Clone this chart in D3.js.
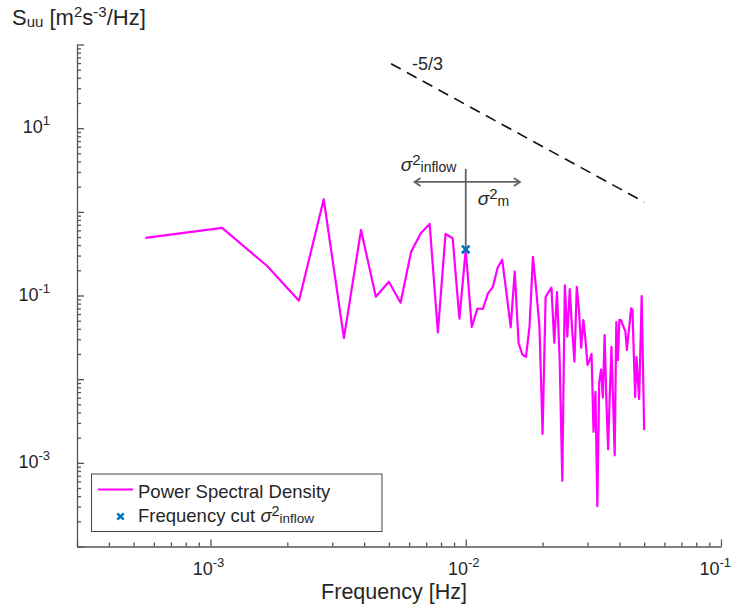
<!DOCTYPE html>
<html>
<head>
<meta charset="utf-8">
<script src="https://cdn.jsdelivr.net/npm/d3@7"></script>
<style>
  body { margin: 0; background: #fff; }
  svg { display: block; font-family: "Liberation Sans", Arial, sans-serif; }
</style>
</head>
<body>
<div id="chart"></div>
<script>
// Frequencies [Hz] of the spectrum
const freq = [
  0.000556, 0.001111, 0.001667, 0.002222, 0.002778, 0.003333, 0.003889, 0.004444, 0.005, 0.005556,
  0.006111, 0.006667, 0.007222, 0.007778, 0.008333, 0.008889, 0.009444, 0.01, 0.010556, 0.011111,
  0.011667, 0.012222, 0.012778, 0.013333, 0.013889, 0.014444, 0.015, 0.015556, 0.016111, 0.016667,
  0.017222, 0.017778, 0.018333, 0.018889, 0.019444, 0.02, 0.020556, 0.021111, 0.021667, 0.022222,
  0.022778, 0.023333, 0.023889, 0.024444, 0.025, 0.025556, 0.026111, 0.026667, 0.027222, 0.027778,
  0.028333, 0.028889, 0.029444, 0.03, 0.030556, 0.031111, 0.031667, 0.032222, 0.032778, 0.033333,
  0.033889, 0.034444, 0.035, 0.035556, 0.036111, 0.036667, 0.037222, 0.037778, 0.038333, 0.038889,
  0.039444, 0.04, 0.040556, 0.041111, 0.041667, 0.042222, 0.042778, 0.043333, 0.043889, 0.044444,
  0.045, 0.045556, 0.046111, 0.046667, 0.047222, 0.047778, 0.048333, 0.048889, 0.049444, 0.05
];

// Power spectral density S_uu
const psd = [
  0.488, 0.642, 0.225, 0.0867, 1.415, 0.031, 0.607, 0.0968, 0.146, 0.082,
  0.334, 0.554, 0.717, 0.0361, 0.544, 0.483, 0.0528, 0.355, 0.042, 0.0699,
  0.069, 0.106, 0.127, 0.2145, 0.268, 0.107, 0.0417, 0.193, 0.027, 0.0197,
  0.0185, 0.0424, 0.289, 0.116, 0.0424, 0.00222, 0.096, 0.11, 0.124, 0.0272,
  0.11, 0.0169, 0.00061, 0.132, 0.0322, 0.119, 0.0387, 0.0162, 0.127, 0.0671,
  0.0236, 0.0509, 0.0294, 0.0148, 0.0169, 0.02, 0.00235, 0.00707, 0.000303, 0.00923,
  0.013, 0.00603, 0.0337, 0.00562, 0.00145, 0.00645, 0.0244, 0.00562, 0.00123, 0.0482,
  0.0169, 0.0513, 0.051, 0.0456, 0.0408, 0.0376, 0.0223, 0.0328, 0.0482, 0.0703,
  0.0671, 0.0194, 0.00611, 0.0184, 0.0103, 0.00578, 0.0236, 0.0986, 0.0156, 0.00246
];

// Frequency cut marker
const cutFreq = [0.01];
const cutPsd = [0.355];

// -5/3 reference slope
const slopeFreq = [0.0051, 0.05];
const slopePsd = [58.8, 1.31];

// Annotation arrow (sigma^2 inflow / sigma^2 m)
const arrowFreq = [0.0063, 0.0163];
const arrowPsd = [2.28];
const cutLineTop = [3.26];

// Axes
const xDomain = [3e-4, 1e-1];
const yDomain = [1e-4, 1e2];
const xTickLabels = [1e-3, 1e-2, 1e-1];
const yTickLabels = [1e-3, 1e-1, 1e1];

const width = 732;
const height = 611;
const textColor = '#262626';
const axisColor = '#555';

const svg = d3.select('#chart')
  .append('svg')
  .attr('width', width)
  .attr('height', height);

const x = d3.scaleLog().domain(xDomain).range([77, 721]);
const y = d3.scaleLog().domain(yDomain).range([546.5, 44.5]);

const isDecade = v => Math.abs(Math.log10(v) - Math.round(Math.log10(v))) < 1e-9;

// Bottom axis, ticks pointing inward
const xAxis = svg.append('g')
  .attr('transform', `translate(0,${y.range()[0]})`)
  .call(d3.axisBottom(x).tickValues(x.ticks()).tickFormat('').tickSizeOuter(0).tickSizeInner(-4));

xAxis.selectAll('.tick line')
  .attr('y2', d => isDecade(d) ? -7 : -4);

// Left axis, ticks pointing inward
const yAxis = svg.append('g')
  .attr('transform', `translate(${x.range()[0]},0)`)
  .call(d3.axisLeft(y).tickValues(y.ticks()).tickFormat('').tickSizeOuter(0).tickSizeInner(-4));

yAxis.selectAll('.tick line')
  .attr('x2', d => isDecade(d) ? 7 : 4);

svg.selectAll('.domain, .tick line')
  .attr('stroke', axisColor)
  .attr('stroke-width', 1.3);

// Tick labels as 10^n
xTickLabels.forEach((v, i) => {
  const last = i === xTickLabels.length - 1;
  const t = svg.append('text')
    .attr('x', last ? 731 : x(v) - 2)
    .attr('y', 575)
    .attr('text-anchor', last ? 'end' : 'middle')
    .attr('fill', textColor)
    .attr('font-size', 18);
  t.append('tspan').text('10');
  t.append('tspan').attr('dy', -8).attr('font-size', 13).text(Math.round(Math.log10(v)));
});

yTickLabels.forEach(v => {
  const t = svg.append('text')
    .attr('x', 50)
    .attr('y', y(v) + 5)
    .attr('text-anchor', 'end')
    .attr('fill', textColor)
    .attr('font-size', 18);
  t.append('tspan').text('10');
  t.append('tspan').attr('dy', -8).attr('font-size', 13).text(Math.round(Math.log10(v)));
});

// Axis labels
svg.append('text')
  .attr('x', 394)
  .attr('y', 599)
  .attr('text-anchor', 'middle')
  .attr('fill', textColor)
  .attr('font-size', 21.5)
  .text('Frequency [Hz]');

const yLabel = svg.append('text')
  .attr('x', 12)
  .attr('y', 25)
  .attr('fill', textColor)
  .attr('font-size', 22);
yLabel.append('tspan').text('S');
yLabel.append('tspan').attr('font-size', 15).attr('dy', 2).text('uu');
yLabel.append('tspan').attr('dy', -2).text(' [m');
yLabel.append('tspan').attr('font-size', 15).attr('dy', -8).text('2');
yLabel.append('tspan').attr('dy', 8).text('s');
yLabel.append('tspan').attr('font-size', 15).attr('dy', -8).text('-3');
yLabel.append('tspan').attr('dy', 8).text('/Hz]');

// -5/3 slope reference
const slopeData = slopeFreq.map((f, i) => ({ f: f, s: slopePsd[i] }));
svg.append('path')
  .datum(slopeData)
  .attr('fill', 'none')
  .attr('stroke', '#111')
  .attr('stroke-width', 1.6)
  .attr('stroke-dasharray', '11,7')
  .attr('d', d3.line().x(d => x(d.f)).y(d => y(d.s)));

svg.append('text')
  .attr('x', x(slopeFreq[0]) + 21)
  .attr('y', y(slopePsd[0]) + 6)
  .attr('fill', textColor)
  .attr('font-size', 18)
  .text('-5/3');

// Power spectral density line
const psdData = freq.map((f, i) => ({ f: f, s: psd[i] }));
svg.append('path')
  .datum(psdData)
  .attr('fill', 'none')
  .attr('stroke', '#ff00ff')
  .attr('stroke-width', 2.2)
  .attr('stroke-linejoin', 'round')
  .attr('d', d3.line().x(d => x(d.f)).y(d => y(d.s)));

// Annotation: vertical cut line and double arrow
const annColor = '#5f6368';
const cx = x(cutFreq[0]);
svg.append('line')
  .attr('x1', cx).attr('x2', cx)
  .attr('y1', y(cutLineTop[0])).attr('y2', y(cutPsd[0]))
  .attr('stroke', annColor)
  .attr('stroke-width', 1.8);

const ay = y(arrowPsd[0]);
const ax0 = x(arrowFreq[0]);
const ax1 = x(arrowFreq[1]);
svg.append('line')
  .attr('x1', ax0).attr('x2', ax1)
  .attr('y1', ay).attr('y2', ay)
  .attr('stroke', annColor)
  .attr('stroke-width', 1.8);

svg.append('path')
  .attr('fill', 'none')
  .attr('stroke', annColor)
  .attr('stroke-width', 1.8)
  .attr('d', `M${ax0 + 6},${ay - 4}L${ax0},${ay}L${ax0 + 6},${ay + 4}` +
             `M${ax1 - 6},${ay - 4}L${ax1},${ay}L${ax1 - 6},${ay + 4}`);

function sigmaLabel(sel, sub, baseSize) {
  sel.append('tspan').attr('font-style', 'italic').attr('font-size', baseSize).text('σ');
  sel.append('tspan').attr('font-size', baseSize - 4).attr('dy', -6).text('2');
  sel.append('tspan').attr('font-size', baseSize - 5).attr('dy', 7).text(sub);
}

const inflowLabel = svg.append('text')
  .attr('x', cx - 65)
  .attr('y', ay - 11)
  .attr('fill', textColor);
sigmaLabel(inflowLabel, 'inflow', 19);

const mLabel = svg.append('text')
  .attr('x', cx + 12)
  .attr('y', ay + 23)
  .attr('fill', textColor);
sigmaLabel(mLabel, 'm', 19);

// Frequency cut marker
const cross = r => `M${-r},${-r}L${r},${r}M${-r},${r}L${r},${-r}`;
svg.selectAll('.cut')
  .data(cutFreq)
  .enter()
  .append('path')
  .attr('class', 'cut')
  .attr('transform', (d, i) => `translate(${x(d)},${y(cutPsd[i])})`)
  .attr('d', cross(3.8))
  .attr('stroke', '#0072BD')
  .attr('stroke-width', 2.6);

// Legend
const legend = svg.append('g');
legend.append('rect')
  .attr('x', 91.5).attr('y', 474)
  .attr('width', 290.5).attr('height', 57.5)
  .attr('fill', '#fff')
  .attr('stroke', '#444')
  .attr('stroke-width', 1);

legend.append('line')
  .attr('x1', 98).attr('x2', 133)
  .attr('y1', 489.5).attr('y2', 489.5)
  .attr('stroke', '#ff00ff')
  .attr('stroke-width', 2.2);

legend.append('text')
  .attr('x', 138).attr('y', 497.5)
  .attr('fill', textColor)
  .attr('font-size', 18.5)
  .text('Power Spectral Density');

legend.append('path')
  .attr('transform', 'translate(120.5,516.5)')
  .attr('d', cross(3.2))
  .attr('stroke', '#0072BD')
  .attr('stroke-width', 2.4);

const legendCut = legend.append('text')
  .attr('x', 138).attr('y', 522)
  .attr('fill', textColor)
  .attr('font-size', 18.5);
legendCut.append('tspan').text('Frequency cut ');
sigmaLabel(legendCut, 'inflow', 18.5);
</script>
</body>
</html>
